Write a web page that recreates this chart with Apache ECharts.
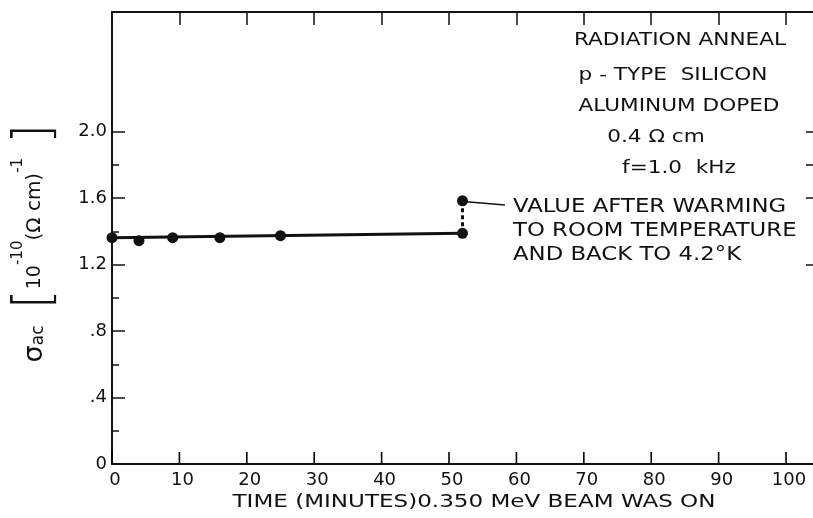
<!DOCTYPE html>
<html>
<head>
<meta charset="utf-8">
<script src="https://cdn.jsdelivr.net/npm/echarts@6/dist/echarts.min.js"></script>
<style>html,body{margin:0;padding:0;background:#fff;}#c{width:813px;height:518px;}</style>
</head>
<body>
<div id="c"></div>
<script>
// ---- data ----
const times = [0, 4, 9, 16, 25, 52];
const sigma = [1.362, 1.344, 1.362, 1.362, 1.374, 1.388];
const warmedTime = 52;
const warmedSigma = 1.584;
const fitLine = [[0, 1.362], [52, 1.388]];
const leader = [[52.6, 1.578], [58.3, 1.558]];
const xTickValues = [0, 10, 20, 30, 40, 50, 60, 70, 80, 90, 100];
const yLabelValues = [0, 0.4, 0.8, 1.2, 1.6, 2.0];
const yMinorValues = [0.2, 0.6, 1.0, 1.4, 1.8];
const rightTicks = [1.2, 1.6, 1.8, 2.0];
const infoLines = ['RADIATION ANNEAL', 'p - TYPE  SILICON', 'ALUMINUM DOPED', '0.4 Ω cm', 'f=1.0  kHz'];
const noteLines = ['VALUE AFTER WARMING', 'TO ROOM TEMPERATURE', 'AND BACK TO 4.2°K'];
const xTitle = 'TIME (MINUTES)0.350 MeV BEAM WAS ON';

const INK = '#111';
const FONT = '"DejaVu Sans", "Liberation Sans", sans-serif';
const THIN = '"DejaVu Sans ExtraLight", "DejaVu Sans", sans-serif';
const X_MAX = 104, Y_MAX = 2.72;

const chart = echarts.init(document.getElementById('c'), null, {renderer: 'canvas'});

const points = times.map((t, i) => [t, sigma[i]]).concat([[warmedTime, warmedSigma]]);

function yFmt(v) {
  if (Math.abs(v) < 1e-9) return '0';
  if (v < 1) return '.' + Math.round(v * 10);
  return v.toFixed(1);
}

const infoX = [680, 673, 679, 656, 679];
const infoY = [40, 75, 106, 137, 168];
const graphics = [];
infoLines.forEach((t, i) => {
  graphics.push({type: 'text', x: infoX[i], y: infoY[i], scaleX: 1.2, silent: true,
    style: {text: t, font: '18px ' + FONT, fill: INK, align: 'center', verticalAlign: 'middle'}});
});
const noteY = [207, 231, 255];
noteLines.forEach((t, i) => {
  graphics.push({type: 'text', x: 513, y: noteY[i], scaleX: 1.14, silent: true,
    style: {text: t, font: '20px ' + FONT, fill: INK, align: 'left', verticalAlign: 'middle'}});
});
graphics.push({type: 'text', x: 474, y: 502, scaleX: 1.28, silent: true,
  style: {text: xTitle, font: '18px ' + FONT, fill: INK, align: 'center', verticalAlign: 'middle'}});
graphics.push({type: 'text', x: 35, y: 243, rotation: Math.PI / 2, silent: true,
  style: {
    text: '{s|σ}{sub|ac}{b1|[}{n|10}{sup|-10}{p|(Ω cm)}{sup|-1}{b2|]}',
    align: 'center', verticalAlign: 'middle', fill: INK,
    rich: {
      s: {fontFamily: FONT, fontSize: 27, lineHeight: 48, verticalAlign: 'middle', fill: INK},
      sub: {fontFamily: FONT, fontSize: 17, lineHeight: 20, verticalAlign: 'middle', padding: [8, 0, 0, 0], fill: INK},
      b1: {fontFamily: THIN, fontWeight: 200, fontSize: 52, lineHeight: 48, verticalAlign: 'middle', padding: [0, 0, 0, 16], fill: INK},
      b2: {fontFamily: THIN, fontWeight: 200, fontSize: 52, lineHeight: 48, verticalAlign: 'middle', padding: [0, 0, 0, 14], fill: INK},
      n: {fontFamily: FONT, fontSize: 19, lineHeight: 22, verticalAlign: 'middle', fill: INK},
      sup: {fontFamily: FONT, fontSize: 15, lineHeight: 16, verticalAlign: 'top', fill: INK},
      p: {fontFamily: FONT, fontSize: 20, lineHeight: 22, verticalAlign: 'middle', fill: INK}
    }
  }});

const hidden = {splitLine: {show: false}, axisLine: {show: false}, axisLabel: {show: false}, axisTick: {show: false}};
function xAx(extra) {
  return Object.assign({type: 'value', min: 0, max: X_MAX, interval: 10}, hidden, extra);
}
function yAx(extra) {
  return Object.assign({type: 'value', min: 0, max: Y_MAX, interval: 0.4}, hidden, extra);
}
const tickLine = {color: INK, width: 1.5};

const option = {
  backgroundColor: '#fff',
  animation: false,
  grid: [
    {left: 112, right: 0, top: 12, bottom: 54},          // main plot
    {left: 806, right: 0, top: 12, bottom: 54}            // strip for right inward ticks
  ],
  xAxis: [
    xAx({gridIndex: 0, position: 'bottom',
      axisLine: {show: true, onZero: false, lineStyle: {color: INK, width: 2}},
      axisLabel: {show: true, customValues: xTickValues, margin: 7, padding: [0, 0, 0, 6],
        color: INK, fontFamily: FONT, fontSize: 18}}),
    xAx({gridIndex: 0, position: 'top',
      axisLine: {show: true, onZero: false, lineStyle: {color: INK, width: 2}},
      axisTick: {show: true, inside: true, length: 13, customValues: xTickValues, lineStyle: tickLine}}),
    xAx({gridIndex: 1, position: 'bottom'})
  ],
  yAxis: [
    yAx({gridIndex: 0, position: 'left',
      axisLine: {show: true, onZero: false, lineStyle: {color: INK, width: 2}},
      axisTick: {show: true, inside: true, length: 13, customValues: yLabelValues, lineStyle: tickLine},
      axisLabel: {show: true, customValues: yLabelValues, formatter: yFmt, margin: 5,
        color: INK, fontFamily: FONT, fontSize: 18}}),
    yAx({gridIndex: 0, position: 'left',
      axisTick: {show: true, inside: true, length: 7, customValues: yMinorValues, lineStyle: tickLine}}),
    yAx({gridIndex: 1, position: 'left',
      axisTick: {show: true, inside: true, length: 7, customValues: rightTicks, lineStyle: tickLine}})
  ],
  series: [
    {type: 'line', xAxisIndex: 0, yAxisIndex: 0, data: fitLine, symbol: 'none', lineStyle: {color: INK, width: 3}, z: 2},
    {type: 'line', xAxisIndex: 0, yAxisIndex: 0, data: [[warmedTime, sigma[sigma.length - 1]], [warmedTime, warmedSigma]], symbol: 'none',
      lineStyle: {color: INK, width: 3, type: [4, 3]}, z: 2},
    {type: 'line', xAxisIndex: 0, yAxisIndex: 0, data: leader, symbol: 'none', lineStyle: {color: INK, width: 1.5}, z: 2},
    {type: 'scatter', xAxisIndex: 0, yAxisIndex: 0, data: points, symbol: 'circle', symbolSize: 11, itemStyle: {color: INK, opacity: 1}, z: 3},
    {
      // inward tick marks along the bottom axis, placed through the x scale, on their own layer
      type: 'custom', xAxisIndex: 0, yAxisIndex: 0, silent: true, zlevel: 1, z: 10, clip: false,
      data: xTickValues.map(v => [v, 0]),
      encode: {x: 0, y: 1},
      renderItem: function (params, api) {
        const p = api.coord([api.value(0), api.value(1)]);
        return {type: 'line', shape: {x1: p[0], y1: p[1] - 1, x2: p[0], y2: p[1] - 12},
          style: {stroke: '#000', lineWidth: 1.6, opacity: 1}};
      }
    }
  ],
  graphic: graphics
};
chart.setOption(option);
</script>
</body>
</html>
